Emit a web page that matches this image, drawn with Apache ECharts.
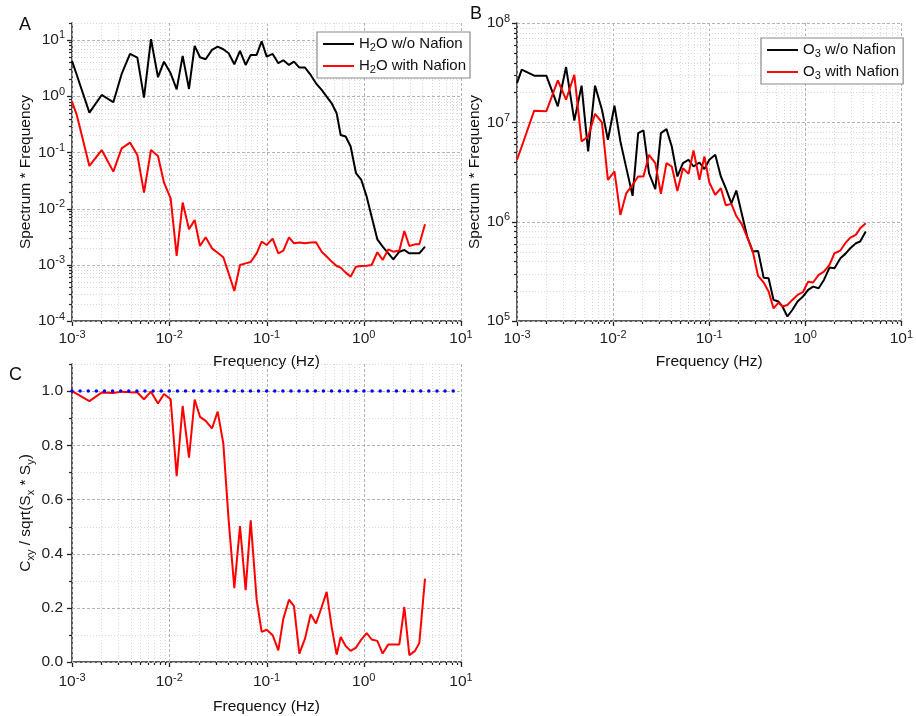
<!DOCTYPE html>
<html><head><meta charset="utf-8">
<script src="https://cdn.jsdelivr.net/npm/echarts@6/dist/echarts.min.js"></script>
<style>html,body{margin:0;padding:0;background:#fff}#c{width:916px;height:716px}</style>
</head><body><div id="c"></div>
<script>
// ---------------- data ----------------
const freq = [
  0.00100, 0.00112, 0.00151, 0.00202, 0.00266, 0.00324, 0.00395, 0.00470, 0.00550, 0.00649,
  0.00766, 0.00883, 0.01034, 0.01192, 0.01374, 0.01596, 0.01825, 0.02071, 0.02367, 0.02751,
  0.03146, 0.03597, 0.04082, 0.04669, 0.05340, 0.06104, 0.06874, 0.07920, 0.08918, 0.1004,
  0.1157, 0.1323, 0.1490, 0.1703, 0.1917, 0.2176, 0.2488, 0.2845, 0.3228, 0.3692,
  0.4155, 0.4679, 0.5266, 0.5790, 0.6516, 0.7333, 0.8322, 0.9443, 1.072, 1.206,
  1.379, 1.565, 1.789, 2.014, 2.322, 2.614, 2.943, 3.365, 3.727, 4.265
];
const h2oWithout = [
  4.23, 2.38, 0.509, 1.05, 0.778, 2.48, 5.63, 4.85, 0.94, 10.3,
  2.17, 4.11, 2.55, 1.32, 5.19, 1.34, 7.82, 4.92, 4.53, 6.64,
  7.60, 6.82, 5.79, 3.69, 6.37, 3.59, 5.41, 5.41, 9.47, 5.05,
  5.63, 3.85, 4.35, 3.59, 4.11, 3.22, 3.22, 2.38, 1.69, 1.29,
  0.98, 0.746, 0.496, 0.204, 0.191, 0.127, 0.0425, 0.0323, 0.0163, 0.00718,
  0.00284, 0.00210, 0.00160, 0.00125, 0.00171, 0.00183, 0.00160, 0.00160, 0.00160, 0.00210
];
const h2oWith = [
  0.80, 0.462, 0.0573, 0.110, 0.0454, 0.118, 0.149, 0.0899, 0.0192, 0.110,
  0.0863, 0.0289, 0.0152, 0.00144, 0.0128, 0.00428, 0.00627, 0.00216, 0.00308, 0.00196,
  0.00164, 0.00136, 0.000705, 0.000342, 0.000991, 0.00106, 0.00112, 0.00160, 0.00258, 0.00225,
  0.00292, 0.00160, 0.00179, 0.00308, 0.00241, 0.00248, 0.00241, 0.00248, 0.00251, 0.00171,
  0.00140, 0.00114, 0.000953, 0.000890, 0.000725, 0.000615, 0.000927, 0.000953, 0.00096, 0.00099,
  0.00167, 0.00122, 0.00188, 0.00171, 0.00179, 0.00399, 0.00216, 0.00231, 0.00231, 0.00525
];
const o3Without = [
  2.48e7, 3.39e7, 2.95e7, 2.95e7, 1.45e7, 3.60e7, 1.04e7, 2.34e7, 5.09e6, 2.34e7,
  1.34e7, 6.67e6, 1.47e7, 6.42e6, 3.46e6, 1.82e6, 7.79e6, 8.28e6, 3.08e6, 2.12e6,
  7.79e6, 8.55e6, 5.71e6, 2.85e6, 3.88e6, 4.20e6, 3.59e6, 3.94e6, 3.38e6, 4.20e6,
  4.71e6, 2.85e6, 2.17e6, 1.53e6, 2.06e6, 1.22e6, 7.08e5, 5.00e5, 5.08e5, 2.73e5,
  2.69e5, 1.63e5, 1.57e5, 1.40e5, 1.11e5, 1.29e5, 1.57e5, 1.76e5, 2.06e5, 2.22e5,
  2.14e5, 2.59e5, 3.45e5, 3.40e5, 4.29e5, 4.74e5, 5.40e5, 6.07e5, 6.31e5, 7.96e5
];
const o3With = [
  4.20e6, 5.71e6, 1.31e7, 1.29e7, 2.64e7, 1.69e7, 3.01e7, 6.42e6, 7.21e6, 1.22e7,
  9.98e6, 2.64e6, 3.20e6, 1.17e6, 1.94e6, 2.35e6, 2.85e6, 2.85e6, 4.71e6, 3.88e6,
  1.91e6, 3.88e6, 3.59e6, 2.04e6, 3.46e6, 3.03e6, 5.21e6, 2.64e6, 4.53e6, 2.48e6,
  1.86e6, 2.17e6, 1.46e6, 1.51e6, 1.14e6, 9.50e5, 6.97e5, 5.00e5, 2.84e5, 2.44e5,
  1.98e5, 1.34e5, 1.53e5, 1.40e5, 1.45e5, 1.63e5, 1.83e5, 1.95e5, 2.49e5, 2.44e5,
  2.91e5, 3.14e5, 3.67e5, 4.81e5, 5.12e5, 6.07e5, 6.92e5, 7.36e5, 8.59e5, 9.66e5
];
const coherence = [
  1.0, 0.99, 0.963, 0.995, 0.993, 0.998, 0.996, 0.995, 0.970, 0.998,
  0.954, 0.989, 0.970, 0.686, 0.945, 0.754, 0.969, 0.905, 0.890, 0.862,
  0.924, 0.807, 0.523, 0.273, 0.502, 0.265, 0.523, 0.230, 0.111, 0.119,
  0.099, 0.043, 0.160, 0.230, 0.206, 0.031, 0.086, 0.176, 0.142, 0.203,
  0.259, 0.129, 0.027, 0.092, 0.059, 0.041, 0.053, 0.083, 0.107, 0.083,
  0.078, 0.031, 0.065, 0.065, 0.065, 0.203, 0.025, 0.041, 0.070, 0.308
];
const idealFreq = [0.001, 10];
const idealCoh = [1, 1];

const xDecades = [-3, -2, -1, 0, 1];
const yDecadesA = [-4, -3, -2, -1, 0, 1];
const yDecadesB = [5, 6, 7, 8];
const cMajor = [0, 0.2, 0.4, 0.6, 0.8, 1.0];
const cMinor = [0.1, 0.3, 0.5, 0.7, 0.9, 1.1];

// ---------------- helpers ----------------
const FONT = 'Liberation Sans, Arial, sans-serif';
const FS = 15.5;
function pairs(xs, ys) { return xs.map((x, i) => [x, ys[i]]); }
function logMinors(decs, maxV) {
  const out = [];
  for (let i = 0; i < decs.length; i++) {
    for (let k = 2; k <= 9; k++) {
      const v = k * Math.pow(10, decs[i]);
      if (v <= maxV * 1.0001) out.push(v);
    }
  }
  return out;
}
function powLabel(v) {
  const e = Math.log10(v), r = Math.round(e);
  if (Math.abs(e - r) > 1e-6) return '';
  return '10{sup|' + r + '}';
}
const supRich = { sup: { fontSize: 11, lineHeight: 10, verticalAlign: 'top', fontFamily: FONT, color: '#222' } };
const subRich = { sub: { fontSize: 11, lineHeight: 10, verticalAlign: 'bottom', fontFamily: FONT, color: '#111' } };

function frameSeries(idx, xMaj, xMin, yMaj, yMin, xRef, yRef) {
  return {
    type: 'custom', xAxisIndex: idx, yAxisIndex: idx, silent: true, clip: false, z: 1,
    data: [[xRef, yRef]],
    renderItem: function (params, api) {
      const cs = params.coordSys;
      const top = cs.y, bottom = cs.y + cs.height, left = cs.x, right = cs.x + cs.width;
      const ch = [];
      const r = v => Math.round(v) + 0.5;
      xMin.forEach(v => {
        const px = r(api.coord([v, yRef])[0]);
        ch.push({ type: 'line', shape: { x1: px, y1: top, x2: px, y2: bottom }, style: { stroke: '#d9d9d9', lineWidth: 1, lineDash: [1, 2] } });
        ch.push({ type: 'line', shape: { x1: px, y1: bottom, x2: px, y2: bottom + 3 }, style: { stroke: '#222', lineWidth: 1.2 } });
      });
      xMaj.forEach(v => {
        const px = r(api.coord([v, yRef])[0]);
        ch.push({ type: 'line', shape: { x1: px, y1: top, x2: px, y2: bottom }, style: { stroke: '#b3b3b3', lineWidth: 1, lineDash: [3, 2] } });
        ch.push({ type: 'line', shape: { x1: px, y1: bottom, x2: px, y2: bottom + 5 }, style: { stroke: '#222', lineWidth: 1.3 } });
      });
      yMin.forEach(v => {
        const py = r(api.coord([xRef, v])[1]);
        ch.push({ type: 'line', shape: { x1: left, y1: py, x2: right, y2: py }, style: { stroke: '#d9d9d9', lineWidth: 1, lineDash: [1, 2] } });
        ch.push({ type: 'line', shape: { x1: left - 3, y1: py, x2: left, y2: py }, style: { stroke: '#222', lineWidth: 1.2 } });
      });
      yMaj.forEach(v => {
        const py = r(api.coord([xRef, v])[1]);
        ch.push({ type: 'line', shape: { x1: left, y1: py, x2: right, y2: py }, style: { stroke: '#b3b3b3', lineWidth: 1, lineDash: [3, 2] } });
        ch.push({ type: 'line', shape: { x1: left - 5, y1: py, x2: left, y2: py }, style: { stroke: '#222', lineWidth: 1.3 } });
      });
      return { type: 'group', children: ch };
    }
  };
}

function logXAxis(gi, gap, margin) {
  return {
    type: 'log', logBase: 10, gridIndex: gi, min: 0.001, max: 10,
    axisLine: { show: true, onZero: false, lineStyle: { color: '#222', width: 1.5 } },
    axisTick: { show: false }, splitLine: { show: false }, minorTick: { show: false }, minorSplitLine: { show: false },
    axisLabel: { formatter: powLabel, fontFamily: FONT, fontSize: FS, color: '#222', lineHeight: 20, margin: margin, rich: supRich },
    name: 'Frequency (Hz)', nameLocation: 'middle', nameGap: gap,
    nameTextStyle: { fontFamily: FONT, fontSize: FS, color: '#111' }
  };
}

const xMajVals = xDecades.map(e => Math.pow(10, e));
const xMinVals = logMinors([-3, -2, -1, 0], 10);
const yMajA = yDecadesA.map(e => Math.pow(10, e));
const yMinA = logMinors(yDecadesA, 20);
const yMajB = yDecadesB.map(e => Math.pow(10, e));
const yMinB = logMinors([5, 6, 7], 1e8);

function legendFmt(name) {
  return name.replace('H2O', 'H{sub|2}O').replace('O3', 'O{sub|3}');
}
const legendBase = {
  orient: 'vertical', itemWidth: 31, itemHeight: 14, itemGap: 4, itemTextGap: 4,
  backgroundColor: '#fff', borderColor: '#8a8a8a', borderWidth: 1.2, borderRadius: 0,
  padding: [3, 4, 3, 6], icon: 'path://M0,6 L32,6 L32,8 L0,8 Z',
  textStyle: { fontFamily: FONT, fontSize: 15, color: '#111', lineHeight: 18, rich: subRich },
  formatter: legendFmt
};

const chart = echarts.init(document.getElementById('c'), null, { renderer: 'canvas' });
chart.setOption({
  animation: false,
  backgroundColor: '#fff',
  grid: [
    { left: 72, top: 23, width: 389, height: 298 },
    { left: 517, top: 23, width: 389, height: 298 },
    { left: 72, top: 364, width: 389, height: 298 }
  ],
  xAxis: [logXAxis(0, 33, 8), logXAxis(1, 33, 8), logXAxis(2, 37, 10)],
  yAxis: [
    {
      type: 'log', logBase: 10, gridIndex: 0, min: 1e-4, max: 20,
      axisLine: { show: true, onZero: false, lineStyle: { color: '#222', width: 1.5 } },
      axisTick: { show: false }, splitLine: { show: false }, minorTick: { show: false },
      axisLabel: { formatter: powLabel, fontFamily: FONT, fontSize: FS, color: '#222', lineHeight: 20, margin: 7, rich: supRich },
      name: 'Spectrum * Frequency', nameLocation: 'middle', nameGap: 37,
      nameTextStyle: { fontFamily: FONT, fontSize: FS, color: '#111' }
    },
    {
      type: 'log', logBase: 10, gridIndex: 1, min: 1e5, max: 1e8,
      axisLine: { show: true, onZero: false, lineStyle: { color: '#222', width: 1.5 } },
      axisTick: { show: false }, splitLine: { show: false }, minorTick: { show: false },
      axisLabel: { formatter: powLabel, fontFamily: FONT, fontSize: FS, color: '#222', lineHeight: 20, margin: 7, rich: supRich },
      name: 'Spectrum * Frequency', nameLocation: 'middle', nameGap: 32,
      nameTextStyle: { fontFamily: FONT, fontSize: FS, color: '#111' }
    },
    {
      type: 'value', gridIndex: 2, min: 0, max: 1.1, interval: 0.2,
      axisLine: { show: true, onZero: false, lineStyle: { color: '#222', width: 1.5 } },
      axisTick: { show: false }, splitLine: { show: false },
      axisLabel: {
        formatter: v => (Math.abs(v - 1.1) < 1e-6 ? '' : v.toFixed(1)),
        fontFamily: FONT, fontSize: FS, color: '#222', margin: 9
      },
      name: 'C{sub|xy} / sqrt(S{sub|x} * S{sub|y})', nameLocation: 'middle', nameGap: 36,
      nameTextStyle: { fontFamily: FONT, fontSize: FS, color: '#111', lineHeight: 20, rich: subRich }
    }
  ],
  legend: [
    Object.assign({}, legendBase, { left: 317, top: 32, data: ['H2O w/o Nafion', 'H2O with Nafion'] }),
    Object.assign({}, legendBase, { left: 761, top: 38, data: ['O3 w/o Nafion', 'O3 with Nafion'] })
  ],
  graphic: [
    { type: 'text', left: 19, top: 16, z: 0, style: { text: 'A', fontFamily: FONT, fontSize: 18, fill: '#111' } },
    { type: 'text', left: 470, top: 5, z: 0, style: { text: 'B', fontFamily: FONT, fontSize: 18, fill: '#111' } },
    { type: 'text', left: 9, top: 366, z: 0, style: { text: 'C', fontFamily: FONT, fontSize: 18, fill: '#111' } }
  ],
  series: [
    frameSeries(0, xMajVals, xMinVals, yMajA, yMinA, 0.001, 1e-4),
    frameSeries(1, xMajVals, xMinVals, yMajB, yMinB, 0.001, 1e5),
    frameSeries(2, xMajVals, xMinVals, cMajor, cMinor, 0.001, 0),
    { name: 'H2O w/o Nafion', type: 'line', xAxisIndex: 0, yAxisIndex: 0, symbol: 'none', z: 3,
      lineStyle: { color: '#000', width: 2 }, itemStyle: { color: '#000' }, data: pairs(freq, h2oWithout) },
    { name: 'H2O with Nafion', type: 'line', xAxisIndex: 0, yAxisIndex: 0, symbol: 'none', z: 3,
      lineStyle: { color: '#ff0000', width: 2 }, itemStyle: { color: '#ff0000' }, data: pairs(freq, h2oWith) },
    { name: 'O3 w/o Nafion', type: 'line', xAxisIndex: 1, yAxisIndex: 1, symbol: 'none', z: 3,
      lineStyle: { color: '#000', width: 2 }, itemStyle: { color: '#000' }, data: pairs(freq, o3Without) },
    { name: 'O3 with Nafion', type: 'line', xAxisIndex: 1, yAxisIndex: 1, symbol: 'none', z: 3,
      lineStyle: { color: '#ff0000', width: 2 }, itemStyle: { color: '#ff0000' }, data: pairs(freq, o3With) },
    { name: 'Coherence', type: 'line', xAxisIndex: 2, yAxisIndex: 2, symbol: 'none', z: 3,
      lineStyle: { color: '#ff0000', width: 2 }, itemStyle: { color: '#ff0000' }, data: pairs(freq, coherence) },
    { name: 'Ideal', type: 'line', xAxisIndex: 2, yAxisIndex: 2, symbol: 'none', z: 4,
      lineStyle: { color: '#0000ff', width: 3.5, type: [0.01, 8.1], cap: 'round' }, data: pairs(idealFreq, idealCoh) }
  ]
});
</script>
</body></html>
